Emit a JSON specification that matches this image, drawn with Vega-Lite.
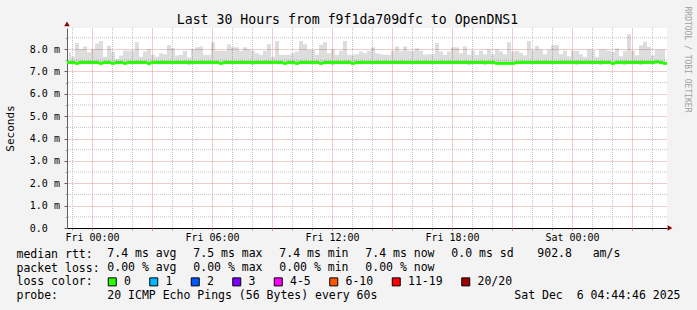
{
  "$schema": "https://vega.github.io/schema/vega-lite/v6.json",
  "width": 600,
  "height": 200,
  "autosize": {"type": "none"},
  "padding": {"left": 67, "top": 28, "right": 30, "bottom": 82},
  "background": "#f3f3f3",
  "config": {"view": {"fill": "white", "stroke": null}, "font": "DejaVu Sans Mono"},
  "title": {"text": "Last 30 Hours from f9f1da709dfc to OpenDNS1", "font": "DejaVu Sans Mono", "fontSize": 13.2, "fontWeight": "normal", "color": "black", "anchor": "middle", "frame": "group", "baseline": "alphabetic", "dx": -19.5, "dy": 31, "offset": 0},
  "datasets": {
    "minorTimes": [
      {"g": "2025-12-04T23:00:00Z"}, {"g": "2025-12-05T01:00:00Z"}, {"g": "2025-12-05T02:00:00Z"}, {"g": "2025-12-05T04:00:00Z"},
      {"g": "2025-12-05T05:00:00Z"}, {"g": "2025-12-05T07:00:00Z"}, {"g": "2025-12-05T08:00:00Z"}, {"g": "2025-12-05T10:00:00Z"},
      {"g": "2025-12-05T11:00:00Z"}, {"g": "2025-12-05T13:00:00Z"}, {"g": "2025-12-05T14:00:00Z"}, {"g": "2025-12-05T16:00:00Z"},
      {"g": "2025-12-05T17:00:00Z"}, {"g": "2025-12-05T19:00:00Z"}, {"g": "2025-12-05T20:00:00Z"}, {"g": "2025-12-05T22:00:00Z"},
      {"g": "2025-12-05T23:00:00Z"}, {"g": "2025-12-06T01:00:00Z"}, {"g": "2025-12-06T02:00:00Z"}, {"g": "2025-12-06T04:00:00Z"}
    ],
    "minorLevels": [
      {"v": 0.5}, {"v": 1.5}, {"v": 2.5}, {"v": 3.5}, {"v": 4.5}, {"v": 5.5}, {"v": 6.5}, {"v": 7.5}, {"v": 8.5}
    ],
    "smoke": [
      {"t":"2025-12-04T22:51:00Z","lo":7.32,"hi":7.86,"med":7.4,"loss":"0"},
      {"t":"2025-12-04T23:03:00Z","lo":7.32,"hi":7.66,"med":7.4,"loss":"0"},
      {"t":"2025-12-04T23:15:00Z","lo":7.32,"hi":8.26,"med":7.36,"loss":"0"},
      {"t":"2025-12-04T23:27:00Z","lo":7.32,"hi":7.99,"med":7.4,"loss":"0"},
      {"t":"2025-12-04T23:39:00Z","lo":7.32,"hi":8.11,"med":7.4,"loss":"0"},
      {"t":"2025-12-04T23:51:00Z","lo":7.32,"hi":7.86,"med":7.4,"loss":"0"},
      {"t":"2025-12-05T00:03:00Z","lo":7.32,"hi":7.99,"med":7.4,"loss":"0"},
      {"t":"2025-12-05T00:15:00Z","lo":7.32,"hi":8.26,"med":7.4,"loss":"0"},
      {"t":"2025-12-05T00:27:00Z","lo":7.32,"hi":8.36,"med":7.36,"loss":"0"},
      {"t":"2025-12-05T00:39:00Z","lo":7.32,"hi":7.66,"med":7.4,"loss":"0"},
      {"t":"2025-12-05T00:51:00Z","lo":7.32,"hi":8.15,"med":7.4,"loss":"0"},
      {"t":"2025-12-05T01:03:00Z","lo":7.32,"hi":7.89,"med":7.36,"loss":"0"},
      {"t":"2025-12-05T01:15:00Z","lo":7.32,"hi":7.56,"med":7.4,"loss":"0"},
      {"t":"2025-12-05T01:27:00Z","lo":7.32,"hi":7.71,"med":7.4,"loss":"0"},
      {"t":"2025-12-05T01:39:00Z","lo":7.32,"hi":7.93,"med":7.36,"loss":"0"},
      {"t":"2025-12-05T01:51:00Z","lo":7.32,"hi":7.93,"med":7.4,"loss":"0"},
      {"t":"2025-12-05T02:03:00Z","lo":7.32,"hi":7.93,"med":7.4,"loss":"0"},
      {"t":"2025-12-05T02:15:00Z","lo":7.32,"hi":8.30,"med":7.4,"loss":"0"},
      {"t":"2025-12-05T02:27:00Z","lo":7.32,"hi":7.66,"med":7.4,"loss":"0"},
      {"t":"2025-12-05T02:39:00Z","lo":7.32,"hi":7.89,"med":7.4,"loss":"0"},
      {"t":"2025-12-05T02:51:00Z","lo":7.28,"hi":7.99,"med":7.36,"loss":"0"},
      {"t":"2025-12-05T03:03:00Z","lo":7.32,"hi":7.74,"med":7.4,"loss":"0"},
      {"t":"2025-12-05T03:15:00Z","lo":7.32,"hi":7.66,"med":7.4,"loss":"0"},
      {"t":"2025-12-05T03:27:00Z","lo":7.32,"hi":7.81,"med":7.4,"loss":"0"},
      {"t":"2025-12-05T03:39:00Z","lo":7.32,"hi":7.77,"med":7.4,"loss":"0"},
      {"t":"2025-12-05T03:51:00Z","lo":7.32,"hi":8.18,"med":7.4,"loss":"0"},
      {"t":"2025-12-05T04:03:00Z","lo":7.32,"hi":8.04,"med":7.4,"loss":"0"},
      {"t":"2025-12-05T04:15:00Z","lo":7.32,"hi":7.71,"med":7.4,"loss":"0"},
      {"t":"2025-12-05T04:27:00Z","lo":7.32,"hi":7.74,"med":7.4,"loss":"0"},
      {"t":"2025-12-05T04:39:00Z","lo":7.32,"hi":7.92,"med":7.4,"loss":"0"},
      {"t":"2025-12-05T04:51:00Z","lo":7.28,"hi":7.62,"med":7.4,"loss":"0"},
      {"t":"2025-12-05T05:03:00Z","lo":7.32,"hi":7.99,"med":7.4,"loss":"0"},
      {"t":"2025-12-05T05:15:00Z","lo":7.32,"hi":8.08,"med":7.4,"loss":"0"},
      {"t":"2025-12-05T05:27:00Z","lo":7.32,"hi":8.11,"med":7.4,"loss":"0"},
      {"t":"2025-12-05T05:39:00Z","lo":7.32,"hi":7.74,"med":7.4,"loss":"0"},
      {"t":"2025-12-05T05:51:00Z","lo":7.32,"hi":7.74,"med":7.4,"loss":"0"},
      {"t":"2025-12-05T06:03:00Z","lo":7.32,"hi":8.30,"med":7.4,"loss":"0"},
      {"t":"2025-12-05T06:15:00Z","lo":7.32,"hi":7.92,"med":7.4,"loss":"0"},
      {"t":"2025-12-05T06:27:00Z","lo":7.32,"hi":7.92,"med":7.36,"loss":"0"},
      {"t":"2025-12-05T06:39:00Z","lo":7.32,"hi":7.92,"med":7.4,"loss":"0"},
      {"t":"2025-12-05T06:51:00Z","lo":7.32,"hi":8.21,"med":7.4,"loss":"0"},
      {"t":"2025-12-05T07:03:00Z","lo":7.32,"hi":8.08,"med":7.4,"loss":"0"},
      {"t":"2025-12-05T07:15:00Z","lo":7.32,"hi":8.08,"med":7.4,"loss":"0"},
      {"t":"2025-12-05T07:27:00Z","lo":7.32,"hi":7.92,"med":7.4,"loss":"0"},
      {"t":"2025-12-05T07:39:00Z","lo":7.32,"hi":8.08,"med":7.4,"loss":"0"},
      {"t":"2025-12-05T07:51:00Z","lo":7.32,"hi":7.99,"med":7.4,"loss":"0"},
      {"t":"2025-12-05T08:03:00Z","lo":7.28,"hi":7.92,"med":7.4,"loss":"0"},
      {"t":"2025-12-05T08:15:00Z","lo":7.32,"hi":7.81,"med":7.4,"loss":"0"},
      {"t":"2025-12-05T08:27:00Z","lo":7.32,"hi":7.74,"med":7.4,"loss":"0"},
      {"t":"2025-12-05T08:39:00Z","lo":7.32,"hi":7.92,"med":7.4,"loss":"0"},
      {"t":"2025-12-05T08:51:00Z","lo":7.32,"hi":8.21,"med":7.4,"loss":"0"},
      {"t":"2025-12-05T09:03:00Z","lo":7.32,"hi":7.66,"med":7.4,"loss":"0"},
      {"t":"2025-12-05T09:15:00Z","lo":7.32,"hi":8.36,"med":7.4,"loss":"0"},
      {"t":"2025-12-05T09:27:00Z","lo":7.32,"hi":7.74,"med":7.4,"loss":"0"},
      {"t":"2025-12-05T09:39:00Z","lo":7.32,"hi":7.74,"med":7.36,"loss":"0"},
      {"t":"2025-12-05T09:51:00Z","lo":7.32,"hi":7.74,"med":7.4,"loss":"0"},
      {"t":"2025-12-05T10:03:00Z","lo":7.32,"hi":7.81,"med":7.4,"loss":"0"},
      {"t":"2025-12-05T10:15:00Z","lo":7.32,"hi":7.89,"med":7.36,"loss":"0"},
      {"t":"2025-12-05T10:27:00Z","lo":7.32,"hi":8.36,"med":7.4,"loss":"0"},
      {"t":"2025-12-05T10:39:00Z","lo":7.32,"hi":8.21,"med":7.4,"loss":"0"},
      {"t":"2025-12-05T10:51:00Z","lo":7.32,"hi":7.96,"med":7.4,"loss":"0"},
      {"t":"2025-12-05T11:03:00Z","lo":7.32,"hi":7.96,"med":7.4,"loss":"0"},
      {"t":"2025-12-05T11:15:00Z","lo":7.32,"hi":7.74,"med":7.4,"loss":"0"},
      {"t":"2025-12-05T11:27:00Z","lo":7.32,"hi":8.19,"med":7.36,"loss":"0"},
      {"t":"2025-12-05T11:39:00Z","lo":7.32,"hi":8.30,"med":7.4,"loss":"0"},
      {"t":"2025-12-05T11:51:00Z","lo":7.32,"hi":7.81,"med":7.4,"loss":"0"},
      {"t":"2025-12-05T12:03:00Z","lo":7.28,"hi":7.99,"med":7.4,"loss":"0"},
      {"t":"2025-12-05T12:15:00Z","lo":7.32,"hi":7.74,"med":7.4,"loss":"0"},
      {"t":"2025-12-05T12:27:00Z","lo":7.32,"hi":7.92,"med":7.4,"loss":"0"},
      {"t":"2025-12-05T12:39:00Z","lo":7.32,"hi":8.36,"med":7.4,"loss":"0"},
      {"t":"2025-12-05T12:51:00Z","lo":7.32,"hi":7.74,"med":7.4,"loss":"0"},
      {"t":"2025-12-05T13:03:00Z","lo":7.32,"hi":7.74,"med":7.36,"loss":"0"},
      {"t":"2025-12-05T13:15:00Z","lo":7.32,"hi":7.77,"med":7.4,"loss":"0"},
      {"t":"2025-12-05T13:27:00Z","lo":7.32,"hi":7.89,"med":7.4,"loss":"0"},
      {"t":"2025-12-05T13:39:00Z","lo":7.32,"hi":7.81,"med":7.4,"loss":"0"},
      {"t":"2025-12-05T13:51:00Z","lo":7.32,"hi":7.92,"med":7.4,"loss":"0"},
      {"t":"2025-12-05T14:03:00Z","lo":7.32,"hi":8.08,"med":7.4,"loss":"0"},
      {"t":"2025-12-05T14:15:00Z","lo":7.32,"hi":7.81,"med":7.4,"loss":"0"},
      {"t":"2025-12-05T14:27:00Z","lo":7.32,"hi":7.77,"med":7.4,"loss":"0"},
      {"t":"2025-12-05T14:39:00Z","lo":7.32,"hi":7.74,"med":7.4,"loss":"0"},
      {"t":"2025-12-05T14:51:00Z","lo":7.32,"hi":7.74,"med":7.4,"loss":"0"},
      {"t":"2025-12-05T15:03:00Z","lo":7.32,"hi":7.92,"med":7.4,"loss":"0"},
      {"t":"2025-12-05T15:15:00Z","lo":7.32,"hi":8.11,"med":7.4,"loss":"0"},
      {"t":"2025-12-05T15:27:00Z","lo":7.32,"hi":7.92,"med":7.4,"loss":"0"},
      {"t":"2025-12-05T15:39:00Z","lo":7.32,"hi":8.11,"med":7.4,"loss":"0"},
      {"t":"2025-12-05T15:51:00Z","lo":7.32,"hi":7.92,"med":7.4,"loss":"0"},
      {"t":"2025-12-05T16:03:00Z","lo":7.32,"hi":7.92,"med":7.4,"loss":"0"},
      {"t":"2025-12-05T16:15:00Z","lo":7.32,"hi":8.04,"med":7.4,"loss":"0"},
      {"t":"2025-12-05T16:27:00Z","lo":7.32,"hi":7.92,"med":7.4,"loss":"0"},
      {"t":"2025-12-05T16:39:00Z","lo":7.32,"hi":7.74,"med":7.4,"loss":"0"},
      {"t":"2025-12-05T16:51:00Z","lo":7.32,"hi":7.77,"med":7.4,"loss":"0"},
      {"t":"2025-12-05T17:03:00Z","lo":7.32,"hi":7.77,"med":7.4,"loss":"0"},
      {"t":"2025-12-05T17:15:00Z","lo":7.32,"hi":8.26,"med":7.4,"loss":"0"},
      {"t":"2025-12-05T17:27:00Z","lo":7.32,"hi":7.89,"med":7.4,"loss":"0"},
      {"t":"2025-12-05T17:39:00Z","lo":7.32,"hi":7.74,"med":7.4,"loss":"0"},
      {"t":"2025-12-05T17:51:00Z","lo":7.32,"hi":7.89,"med":7.4,"loss":"0"},
      {"t":"2025-12-05T18:03:00Z","lo":7.32,"hi":8.08,"med":7.4,"loss":"0"},
      {"t":"2025-12-05T18:15:00Z","lo":7.32,"hi":8.08,"med":7.4,"loss":"0"},
      {"t":"2025-12-05T18:27:00Z","lo":7.32,"hi":7.81,"med":7.4,"loss":"0"},
      {"t":"2025-12-05T18:39:00Z","lo":7.32,"hi":8.11,"med":7.4,"loss":"0"},
      {"t":"2025-12-05T18:51:00Z","lo":7.28,"hi":7.74,"med":7.4,"loss":"0"},
      {"t":"2025-12-05T19:03:00Z","lo":7.32,"hi":7.92,"med":7.4,"loss":"0"},
      {"t":"2025-12-05T19:15:00Z","lo":7.32,"hi":7.74,"med":7.4,"loss":"0"},
      {"t":"2025-12-05T19:27:00Z","lo":7.32,"hi":7.92,"med":7.4,"loss":"0"},
      {"t":"2025-12-05T19:39:00Z","lo":7.28,"hi":7.77,"med":7.4,"loss":"0"},
      {"t":"2025-12-05T19:51:00Z","lo":7.32,"hi":7.99,"med":7.4,"loss":"0"},
      {"t":"2025-12-05T20:03:00Z","lo":7.32,"hi":7.77,"med":7.4,"loss":"0"},
      {"t":"2025-12-05T20:15:00Z","lo":7.32,"hi":7.99,"med":7.36,"loss":"0"},
      {"t":"2025-12-05T20:27:00Z","lo":7.32,"hi":7.89,"med":7.36,"loss":"0"},
      {"t":"2025-12-05T20:39:00Z","lo":7.32,"hi":7.77,"med":7.36,"loss":"0"},
      {"t":"2025-12-05T20:51:00Z","lo":7.32,"hi":8.30,"med":7.36,"loss":"0"},
      {"t":"2025-12-05T21:03:00Z","lo":7.32,"hi":7.89,"med":7.36,"loss":"0"},
      {"t":"2025-12-05T21:15:00Z","lo":7.32,"hi":7.92,"med":7.4,"loss":"0"},
      {"t":"2025-12-05T21:27:00Z","lo":7.32,"hi":7.83,"med":7.4,"loss":"0"},
      {"t":"2025-12-05T21:39:00Z","lo":7.32,"hi":7.72,"med":7.4,"loss":"0"},
      {"t":"2025-12-05T21:51:00Z","lo":7.32,"hi":8.36,"med":7.4,"loss":"0"},
      {"t":"2025-12-05T22:03:00Z","lo":7.32,"hi":7.95,"med":7.4,"loss":"0"},
      {"t":"2025-12-05T22:15:00Z","lo":7.32,"hi":8.13,"med":7.4,"loss":"0"},
      {"t":"2025-12-05T22:27:00Z","lo":7.32,"hi":7.98,"med":7.4,"loss":"0"},
      {"t":"2025-12-05T22:39:00Z","lo":7.32,"hi":7.77,"med":7.4,"loss":"0"},
      {"t":"2025-12-05T22:51:00Z","lo":7.32,"hi":7.98,"med":7.4,"loss":"0"},
      {"t":"2025-12-05T23:03:00Z","lo":7.32,"hi":8.17,"med":7.4,"loss":"0"},
      {"t":"2025-12-05T23:15:00Z","lo":7.32,"hi":8.17,"med":7.4,"loss":"0"},
      {"t":"2025-12-05T23:27:00Z","lo":7.32,"hi":7.77,"med":7.4,"loss":"0"},
      {"t":"2025-12-05T23:39:00Z","lo":7.32,"hi":7.92,"med":7.4,"loss":"0"},
      {"t":"2025-12-05T23:51:00Z","lo":7.32,"hi":7.68,"med":7.4,"loss":"0"},
      {"t":"2025-12-06T00:03:00Z","lo":7.32,"hi":7.92,"med":7.4,"loss":"0"},
      {"t":"2025-12-06T00:15:00Z","lo":7.28,"hi":7.92,"med":7.4,"loss":"0"},
      {"t":"2025-12-06T00:27:00Z","lo":7.32,"hi":7.77,"med":7.4,"loss":"0"},
      {"t":"2025-12-06T00:39:00Z","lo":7.32,"hi":7.65,"med":7.4,"loss":"0"},
      {"t":"2025-12-06T00:51:00Z","lo":7.32,"hi":7.98,"med":7.4,"loss":"0"},
      {"t":"2025-12-06T01:03:00Z","lo":7.32,"hi":7.95,"med":7.4,"loss":"0"},
      {"t":"2025-12-06T01:15:00Z","lo":7.32,"hi":7.65,"med":7.4,"loss":"0"},
      {"t":"2025-12-06T01:27:00Z","lo":7.28,"hi":7.98,"med":7.4,"loss":"0"},
      {"t":"2025-12-06T01:39:00Z","lo":7.32,"hi":7.98,"med":7.4,"loss":"0"},
      {"t":"2025-12-06T01:51:00Z","lo":7.32,"hi":7.92,"med":7.4,"loss":"0"},
      {"t":"2025-12-06T02:03:00Z","lo":7.32,"hi":7.87,"med":7.36,"loss":"0"},
      {"t":"2025-12-06T02:15:00Z","lo":7.32,"hi":8.02,"med":7.4,"loss":"0"},
      {"t":"2025-12-06T02:27:00Z","lo":7.32,"hi":7.68,"med":7.4,"loss":"0"},
      {"t":"2025-12-06T02:39:00Z","lo":7.28,"hi":7.92,"med":7.4,"loss":"0"},
      {"t":"2025-12-06T02:51:00Z","lo":7.32,"hi":8.66,"med":7.4,"loss":"0"},
      {"t":"2025-12-06T03:03:00Z","lo":7.32,"hi":7.92,"med":7.4,"loss":"0"},
      {"t":"2025-12-06T03:15:00Z","lo":7.32,"hi":7.72,"med":7.4,"loss":"0"},
      {"t":"2025-12-06T03:27:00Z","lo":7.28,"hi":8.17,"med":7.4,"loss":"0"},
      {"t":"2025-12-06T03:39:00Z","lo":7.32,"hi":8.32,"med":7.4,"loss":"0"},
      {"t":"2025-12-06T03:51:00Z","lo":7.32,"hi":8.10,"med":7.4,"loss":"0"},
      {"t":"2025-12-06T04:03:00Z","lo":7.32,"hi":7.72,"med":7.4,"loss":"0"},
      {"t":"2025-12-06T04:15:00Z","lo":7.32,"hi":7.98,"med":7.43,"loss":"0"},
      {"t":"2025-12-06T04:27:00Z","lo":7.32,"hi":7.98,"med":7.4,"loss":"0"},
      {"t":"2025-12-06T04:39:00Z","lo":7.32,"hi":7.98,"med":7.36,"loss":"0"}
    ]
  },
  "layer": [
    {
      "data": {"name": "minorTimes"},
      "mark": {"type": "rule", "color": "#c4c4c4", "strokeWidth": 1, "strokeDash": [1, 1], "xOffset": 0.5},
      "encoding": {
        "x": {"field": "g", "type": "temporal",
          "scale": {"type": "utc", "nice": false, "domain": [1764888300000, 1764996300000]}, "axis": null}
      }
    },
    {
      "data": {"name": "minorLevels"},
      "mark": {"type": "rule", "color": "#c4c4c4", "strokeWidth": 1, "strokeDash": [1, 1]},
      "encoding": {
        "y": {"field": "v", "type": "quantitative",
          "scale": {"domain": [0, 8.94], "nice": false, "zero": false}, "axis": null}
      }
    },
    {
      "data": {"name": "smoke"},
      "mark": {"type": "area", "interpolate": "step", "color": "#000000", "opacity": 0.134, "line": false},
      "encoding": {
        "x": {"field": "t", "type": "temporal",
          "scale": {"type": "utc", "nice": false, "domain": [1764888300000, 1764996300000]}, "axis": null},
        "y": {"field": "lo", "type": "quantitative",
          "scale": {"domain": [0, 8.94], "nice": false, "zero": false}, "axis": null},
        "y2": {"field": "hi"}
      }
    },
    {
      "data": {"values": [
        {"ax": "2025-12-04T22:45:00Z", "ay": 9.12, "dir": "up"},
        {"ax": "2025-12-06T04:54:00Z", "ay": 0, "dir": "right"}
      ]},
      "mark": {"type": "point", "filled": true, "opacity": 1, "color": "#8b0000", "size": 30},
      "encoding": {
        "x": {"field": "ax", "type": "temporal",
          "scale": {"type": "utc", "nice": false, "domain": [1764888300000, 1764996300000]},
          "axis": {"orient": "bottom", "values": [1764889200000, 1764892800000, 1764896400000, 1764900000000, 1764903600000, 1764907200000, 1764910800000, 1764914400000, 1764918000000, 1764921600000, 1764925200000, 1764928800000, 1764932400000, 1764936000000, 1764939600000, 1764943200000, 1764946800000, 1764950400000, 1764954000000, 1764957600000, 1764961200000, 1764964800000, 1764968400000, 1764972000000, 1764975600000, 1764979200000, 1764982800000, 1764986400000, 1764990000000, 1764993600000],
            "grid": false,
            "ticks": true, "tickColor": "#a8a8a8", "tickSize": 2, "domain": true, "domainColor": "black",
            "labelExpr": "utchours(datum.value) % 6 === 0 ? utcFormat(datum.value, '%a %H:%M') : ''",
            "labelFont": "DejaVu Sans Mono", "labelFontSize": 10, "labelColor": "black", "labelPadding": 7.7, "labelBaseline": "middle", "labelFlush": false, "labelOverlap": false,
            "title": "Sat Dec\u00a0\u00a06 04:44:46 2025", "titleX": 613, "titleY": 67.7, "titleAlign": "right", "titleBaseline": "middle", "titleFont": "DejaVu Sans Mono", "titleFontSize": 11.5, "titleFontWeight": "normal", "titleColor": "black"}},
        "y": {"field": "ay", "type": "quantitative",
          "scale": {"domain": [0, 8.94], "nice": false, "zero": false},
          "axis": {"orient": "left", "values": [0.5, 1.5, 2.5, 3.5, 4.5, 5.5, 6.5, 7.5, 8.5], "grid": false, "labels": false, "domain": false, "ticks": true, "tickColor": "#a8a8a8", "tickSize": 2, "title": null}},
        "shape": {"field": "dir", "type": "nominal", "scale": {"domain": ["up", "right"], "range": ["triangle-up", "triangle-right"]}, "legend": null}
      }
    },
    {
      "data": {"name": "smoke"},
      "mark": {"type": "tick", "orient": "horizontal", "size": 4, "thickness": 3, "opacity": 1},
      "encoding": {
        "x": {"field": "t", "type": "temporal",
          "scale": {"type": "utc", "nice": false, "domain": [1764888300000, 1764996300000]},
          "axis": {"orient": "bottom", "values": [1764892800000, 1764903600000, 1764914400000, 1764925200000, 1764936000000, 1764946800000, 1764957600000, 1764968400000, 1764979200000, 1764990000000],
            "grid": true, "gridColor": "#e09a9a", "gridDash": [1, 1], "gridOpacity": 1, "gridWidth": 1, "labels": false, "domain": false, "ticks": true, "tickColor": "#d88080", "tickSize": 2, "title": null}},
        "y": {"field": "med", "type": "quantitative",
          "scale": {"domain": [0, 8.94], "nice": false, "zero": false},
          "axis": {"orient": "left", "values": [0, 1, 2, 3, 4, 5, 6, 7, 8], "grid": true, "gridColor": "#e09a9a", "gridDash": [1, 1], "gridOpacity": 1, "gridWidth": 1,
            "domain": true, "domainColor": "#606060", "ticks": true, "tickColor": "#606060", "tickSize": 3,
            "labelExpr": "datum.value === 0 ? '0.0' : format(datum.value, '.1f') + ' m'",
            "labelAlign": "left", "labelBaseline": "middle", "labelPadding": 34.7, "labelFont": "DejaVu Sans Mono", "labelFontSize": 10, "labelColor": "black",
            "title": "Seconds", "titleFont": "DejaVu Sans Mono", "titleFontSize": 11, "titleFontWeight": "normal", "titleColor": "black", "titleX": -57, "titleY": 100, "titleAngle": 270, "titleAlign": "center", "titleBaseline": "middle"}},
        "color": {"field": "loss", "type": "nominal",
          "scale": {"domain": ["0", "1", "2", "3", "4-5", "6-10", "11-19", "20/20"], "range": ["#26ff00", "#00b8ff", "#0059ff", "#7f00ff", "#ff00ff", "#ff5500", "#ff0000", "#a00000"]},
          "legend": {"orient": "none", "legendX": 39.5, "legendY": 248, "direction": "horizontal", "title": null, "padding": 0,
            "symbolType": "square", "symbolSize": 64, "symbolStrokeColor": "black", "symbolStrokeWidth": 1, "symbolOpacity": 1,
            "labelFont": "DejaVu Sans Mono", "labelFontSize": 11.5, "labelColor": "black", "labelOffset": 6, "columnPadding": 15.5}}
      }
    },
    {
      "data": {"values": [
        {"row": "median rtt:", "col": "avg", "txt": "7.4 ms avg"},
        {"row": "median rtt:", "col": "max", "txt": "7.5 ms max"},
        {"row": "median rtt:", "col": "min", "txt": "7.4 ms min"},
        {"row": "median rtt:", "col": "now", "txt": "7.4 ms now"},
        {"row": "median rtt:", "col": "sd", "txt": "0.0 ms sd"},
        {"row": "median rtt:", "col": "am", "txt": "902.8\u00a0\u00a0\u00a0am/s"},
        {"row": "packet loss:", "col": "avg", "txt": "0.00 % avg"},
        {"row": "packet loss:", "col": "max", "txt": "0.00 % max"},
        {"row": "packet loss:", "col": "min", "txt": "0.00 % min"},
        {"row": "packet loss:", "col": "now", "txt": "0.00 % now"},
        {"row": "probe:", "col": "avg", "txt": "20 ICMP Echo Pings (56 Bytes) every 60s"}
      ]},
      "mark": {"type": "text", "align": "left", "baseline": "middle", "font": "DejaVu Sans Mono", "fontSize": 11.5, "color": "black"},
      "encoding": {
        "x": {"field": "col", "type": "nominal", "scale": {"type": "point", "domain": ["avg", "max", "min", "now", "sd", "am"], "range": [40.3, 470.3], "padding": 0},
          "axis": {"orient": "top", "labels": false, "ticks": false, "domain": false, "grid": false,
            "title": "RRDTOOL / TOBI OETIKER", "titleX": 619, "titleY": 31, "titleAngle": 90, "titleAlign": "center", "titleBaseline": "middle", "titleFont": "DejaVu Sans Mono", "titleFontSize": 8, "titleFontWeight": "normal", "titleColor": "#a0a0a0"}},
        "y": {"field": "row", "type": "nominal", "scale": {"type": "point", "domain": ["median rtt:", "packet loss:", "loss color:", "probe:"], "range": [226.3, 267.7], "padding": 0},
          "axis": {"orient": "left", "domain": false, "ticks": false, "tickSize": 0, "grid": false, "labelAlign": "left", "labelBaseline": "middle", "labelPadding": 51, "labelFont": "DejaVu Sans Mono", "labelFontSize": 11.5, "labelColor": "black", "labelOverlap": false, "title": null}},
        "text": {"field": "txt"}
      }
    }
  ],
  "resolve": {
    "scale": {"x": "independent", "y": "independent", "color": "independent", "shape": "independent"},
    "axis": {"x": "independent", "y": "independent"}
  }
}
